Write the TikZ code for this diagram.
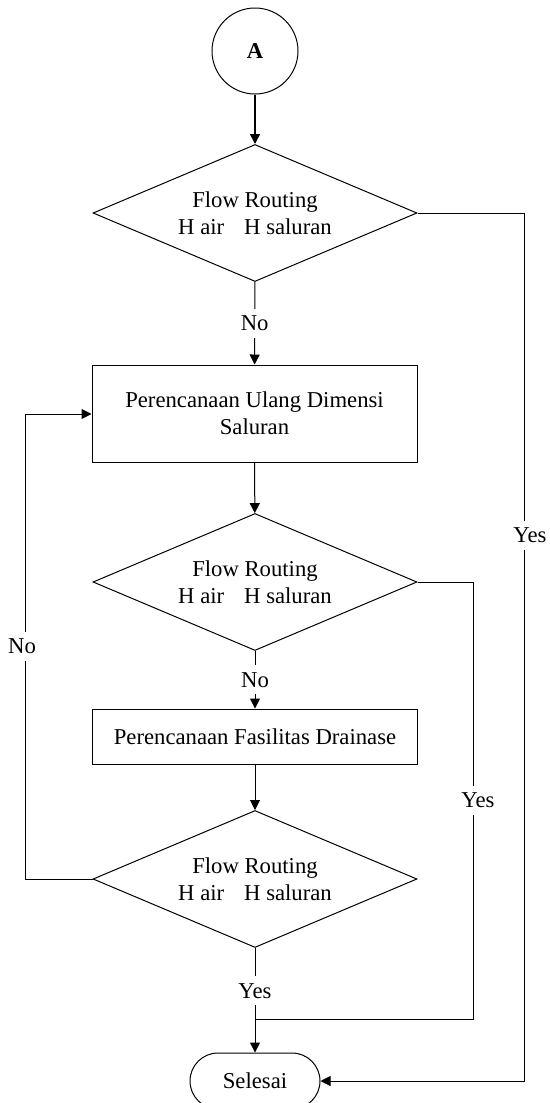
\documentclass[tikz,border=0pt]{standalone}
\usepackage{fontspec}
\setmainfont{Liberation Serif}
\usetikzlibrary{shapes.geometric,arrows.meta}
\begin{document}
\begin{tikzpicture}[x=1pt,y=-1pt,
  base/.style={font=\fontsize{22.7}{27}\selectfont, line width=1pt},
  decision/.style={base, draw, diamond, aspect=2.36, minimum width=324pt, minimum height=137pt, inner sep=0pt, align=center},
  process/.style={base, draw, rectangle, minimum width=325pt, align=center, inner sep=0pt},
  connector/.style={base, draw, circle, minimum size=86pt, inner sep=0pt},
  terminal/.style={base, draw, rounded corners=28pt, minimum width=130pt, minimum height=56pt},
  flow/.style={line width=1pt, -{Triangle[length=10pt,width=10pt]}},
  plainline/.style={line width=1pt},
  lbl/.style={base, fill=white, inner xsep=1pt, inner ysep=0pt, minimum height=29pt}
]
\useasboundingbox (0,0) rectangle (549,1103);
\node[connector, font=\fontsize{22.7}{27}\selectfont\bfseries] (a) at (255,51) {A};
\node[decision] (d1) at (255,213) {Flow Routing\\H air\hspace{20pt}H saluran};
\node[process, minimum height=97pt] (r1) at (254.5,413.5) {Perencanaan Ulang Dimensi\\Saluran};
\node[decision] (d2) at (255,582) {Flow Routing\\H air\hspace{20pt}H saluran};
\node[process, minimum height=55pt] (r2) at (255,736.5) {Perencanaan Fasilitas Drainase};
\node[decision] (d3) at (255,879) {Flow Routing\\H air\hspace{20pt}H saluran};
\node[terminal] (end) at (255,1081) {Selesai};

\coordinate (c1) at (524,213);
\coordinate (c2) at (524,1081);
\coordinate (c3) at (473,582);
\coordinate (c4) at (473,1019);
\coordinate (c6) at (25,879);
\coordinate (c7) at (25,414);

\draw[flow, line width=1.6pt] (a) -- (d1);
\draw[flow] (d1) -- node[lbl]{No} (r1);
\draw[flow] (r1) -- (d2);
\draw[flow] (d2) -- node[lbl]{No} (r2);
\draw[flow] (r2) -- (d3);
\draw[flow] (d3) -- node[lbl, pos=0.41]{Yes} (end);
\draw[flow] (d1.east) -- (c1) -- node[lbl, xshift=6pt, pos=0.371]{Yes} (c2) -- (end.east);
\draw[plainline] (d2.east) -- (c3) -- node[lbl, xshift=5pt]{Yes} (c4) -- (d3.south |- c4);
\draw[flow] (d3.west) -- (c6) -- node[lbl, xshift=-3pt]{No} (c7) -- (r1.west |- c7);
\end{tikzpicture}
\end{document}
